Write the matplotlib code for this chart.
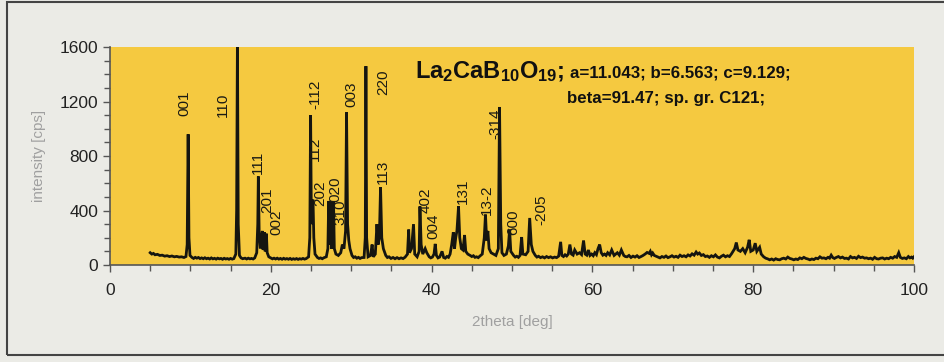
import matplotlib
matplotlib.use("Agg")
import matplotlib.pyplot as plt
from matplotlib.patches import Rectangle

plt.rcParams['font.family'] = ['Liberation Sans', 'DejaVu Sans']
plt.rcParams['mathtext.fontset'] = 'custom'
plt.rcParams['mathtext.rm'] = 'Liberation Sans'
plt.rcParams['mathtext.bf'] = 'Liberation Sans:bold'

# diffraction pattern as (2theta, counts), split by angle range
low_angle = [
    (5.0, 90), (5.2, 80), (5.4, 85), (5.6, 75), (5.9, 78), (6.2, 70), (6.5, 72), (6.8, 65),
    (7.1, 68), (7.4, 62), (7.7, 66), (8.0, 60), (8.3, 63), (8.6, 58), (8.9, 60), (9.2, 55),
    (9.45, 62), (9.6, 150), (9.72, 960), (9.82, 200), (9.95, 70),
    (10.2, 55), (10.4, 48), (10.6, 56), (10.8, 50), (11.0, 55), (11.2, 47), (11.4, 52),
    (11.6, 46), (11.8, 53), (12.0, 46), (12.2, 50), (12.4, 44), (12.6, 52), (12.8, 45),
    (13.0, 49), (13.2, 43), (13.4, 50), (13.6, 45), (13.8, 48), (14.0, 42), (14.2, 49),
    (14.4, 44), (14.6, 47), (14.8, 42), (15.0, 48), (15.2, 43), (15.4, 47), (15.65, 80),
    (15.75, 400), (15.85, 1650), (15.95, 300), (16.1, 70), (16.3, 52), (16.5, 46), (16.8, 50),
    (17.0, 44), (17.2, 50), (17.4, 45), (17.6, 48), (17.8, 44), (18.0, 52), (18.25, 90),
    (18.38, 300), (18.45, 650), (18.55, 250), (18.7, 120), (18.85, 200), (18.95, 250),
    (19.05, 110), (19.2, 240), (19.3, 100), (19.45, 230), (19.55, 90), (19.75, 60),
]
mid_angle = [
    (20.0, 52), (20.2, 45), (20.4, 50), (20.6, 44), (20.8, 50), (21.0, 43), (21.2, 48),
    (21.4, 42), (21.6, 49), (21.8, 43), (22.0, 47), (22.2, 42), (22.4, 48), (22.6, 41),
    (22.8, 46), (23.0, 42), (23.2, 47), (23.4, 41), (23.6, 46), (23.8, 43), (24.0, 48),
    (24.2, 43), (24.4, 47), (24.7, 60), (24.85, 200),
    (24.95, 1100), (25.05, 300), (25.15, 450), (25.25, 480), (25.35, 200), (25.5, 80),
    (25.8, 55), (26.0, 48), (26.2, 52), (26.4, 46), (26.6, 53), (26.9, 60), (27.1, 120),
    (27.2, 470), (27.3, 150), (27.45, 470), (27.55, 120), (27.7, 200), (27.8, 470), (27.9, 120),
    (28.1, 80), (28.4, 70), (28.7, 90), (28.9, 150), (29.1, 120), (29.3, 250),
    (29.42, 1120), (29.55, 300), (29.7, 180), (29.85, 120), (30.1, 70), (30.3, 55), (30.5, 60),
    (30.7, 50), (30.9, 56), (31.1, 48), (31.3, 54), (31.6, 55), (31.75, 200),
    (31.83, 1460), (31.92, 200), (32.1, 60), (32.4, 70), (32.6, 150), (32.75, 60), (33.0, 80),
    (33.2, 300), (33.35, 150), (33.5, 200), (33.65, 570), (33.8, 200), (34.0, 120),
    (34.3, 70), (34.5, 55), (34.7, 60), (34.95, 48), (35.2, 55), (35.45, 46), (35.7, 54),
    (35.95, 46), (36.2, 52), (36.45, 47), (36.7, 57), (37.0, 80), (37.15, 260), (37.25, 90),
    (37.5, 120), (37.75, 300), (37.9, 80), (38.2, 60),
    (38.45, 100), (38.55, 430), (38.7, 150), (38.9, 80), (39.2, 120), (39.4, 90), (39.7, 60),
    (39.9, 52), (40.1, 58), (40.3, 80), (40.45, 155), (40.6, 70), (40.8, 52), (41.0, 58),
    (41.3, 100), (41.5, 55), (41.7, 50), (41.9, 62), (42.1, 56), (42.3, 80), (42.5, 150),
    (42.7, 240), (42.85, 120), (43.0, 200), (43.15, 250), (43.35, 430), (43.5, 200),
    (43.7, 120), (43.9, 110), (44.1, 220), (44.25, 100), (44.5, 80), (44.8, 70), (45.0, 62),
    (45.2, 68), (45.4, 56), (45.6, 60), (45.8, 54), (46.0, 65), (46.3, 80),
    (46.55, 200), (46.7, 370), (46.85, 180), (47.0, 250), (47.15, 120), (47.4, 90),
    (47.7, 80), (48.0, 70), (48.3, 120), (48.45, 1160), (48.6, 300), (48.75, 90), (49.0, 70),
    (49.3, 80), (49.55, 140), (49.7, 260), (49.85, 100), (50.2, 70), (50.4, 58), (50.6, 64),
    (50.8, 56), (51.0, 70), (51.2, 205), (51.35, 80), (51.7, 75), (52.0, 100), (52.2, 345),
    (52.4, 150), (52.6, 100), (52.9, 70), (53.1, 58), (53.3, 64), (53.55, 54), (53.8, 60),
    (54.05, 52), (54.3, 62), (54.55, 54), (54.8, 60), (55.05, 52), (55.3, 58), (55.55, 54),
    (55.8, 65), (56.05, 170), (56.2, 70), (56.4, 62), (56.6, 75), (56.8, 66), (57.0, 80),
    (57.2, 150), (57.4, 80), (57.6, 72), (57.8, 110), (58.1, 80), (58.4, 90), (58.65, 76),
    (58.9, 180), (59.1, 80), (59.3, 72), (59.5, 110), (59.7, 70), (59.9, 80), (60.1, 68),
    (60.3, 90), (60.5, 76), (60.7, 120), (60.9, 150), (61.1, 90), (61.3, 72), (61.5, 80),
    (61.7, 70), (61.9, 90), (62.15, 74), (62.4, 110), (62.7, 70), (62.9, 80), (63.1, 90),
    (63.35, 72), (63.6, 110), (63.9, 70), (64.1, 62),
]
high_angle = [
    (64.3, 60), (64.55, 70), (64.8, 55), (65.05, 65), (65.3, 58), (65.55, 68), (65.8, 55),
    (66.05, 62), (66.3, 70), (66.55, 80), (66.8, 92), (67.05, 85), (67.2, 100), (67.35, 75),
    (67.5, 88), (67.7, 70), (67.9, 65), (68.15, 58), (68.4, 52), (68.65, 62), (68.9, 56),
    (69.15, 66), (69.4, 54), (69.65, 60), (69.9, 68), (70.15, 58), (70.4, 64), (70.65, 56),
    (70.9, 72), (71.15, 62), (71.4, 68), (71.65, 60), (71.9, 74), (72.15, 66), (72.4, 82),
    (72.65, 72), (72.9, 95), (73.1, 80), (73.3, 88), (73.55, 70), (73.8, 76), (74.05, 62),
    (74.3, 66), (74.55, 56), (74.8, 68), (75.05, 60), (75.3, 74), (75.55, 58), (75.8, 52),
    (76.05, 64), (76.3, 72), (76.55, 60), (76.8, 68), (77.05, 62), (77.3, 82),
    (77.7, 120), (77.9, 165), (78.1, 110), (78.4, 100), (78.7, 120), (79.0, 90), (79.3, 130),
    (79.5, 185), (79.7, 100), (80.0, 110), (80.25, 160), (80.45, 100), (80.8, 130), (81.0, 80),
    (81.3, 60), (81.55, 50),
    (81.8, 45), (82.05, 38), (82.3, 44), (82.55, 36), (82.8, 46), (83.05, 40), (83.3, 38),
    (83.55, 46), (83.8, 50), (84.05, 44), (84.3, 58), (84.55, 48), (84.8, 44), (85.05, 38),
    (85.3, 44), (85.55, 40), (85.8, 52), (86.05, 46), (86.3, 56), (86.55, 48), (86.8, 44),
    (87.05, 38), (87.3, 44), (87.55, 40), (87.8, 50), (88.05, 46), (88.3, 60), (88.55, 50),
    (88.8, 52), (89.05, 46), (89.3, 56), (89.5, 50), (89.7, 72), (89.9, 54), (90.1, 48),
    (90.35, 56), (90.6, 62), (90.85, 52), (91.1, 58), (91.35, 48), (91.6, 50), (91.85, 44),
    (92.1, 62), (92.35, 52), (92.6, 56), (92.85, 48), (93.1, 64), (93.35, 54), (93.6, 58),
    (93.85, 50), (94.1, 52), (94.35, 46), (94.6, 50), (94.85, 42), (95.1, 56), (95.35, 46),
    (95.6, 44), (95.85, 50), (96.1, 52), (96.35, 44), (96.6, 50), (96.85, 46), (97.1, 56),
    (97.35, 50), (97.6, 62), (97.85, 56), (98.1, 90), (98.3, 56), (98.55, 48), (98.8, 52),
    (99.05, 46), (99.3, 62), (99.5, 52), (99.7, 58), (99.85, 50), (100.0, 60),
]

# Miller index labels: text, x position, y centre
hkl_text = ["001", "110", "111", "201", "002", "-112", "112", "202", "020", "310",
            "003", "220", "113", "402", "004", "131", "13-2", "-314", "600", "-205"]
hkl_x = [9.2, 14.0, 18.45, 19.6, 20.7, 25.6, 25.5, 26.2, 28.0, 28.7,
         30.0, 34.0, 34.0, 39.2, 40.2, 43.9, 46.85, 47.9, 50.1, 53.6]
hkl_y = [1190, 1174, 752, 477, 316, 1250, 850, 528, 557, 390,
         1257, 1345, 683, 477, 287, 545, 477, 1036, 316, 404]

pattern = low_angle + mid_angle + high_angle
two_theta = [p[0] for p in pattern]
counts = [p[1] for p in pattern]

bg = '#ebebe6'
fig = plt.figure(figsize=(9.45, 3.62), dpi=100, facecolor=bg)
ax = fig.add_axes([0.1164, 0.268, 0.8508, 0.602])
ax.set_facecolor('#f5c940')

ax.plot(two_theta, counts, color='#151510', lw=2.0, solid_joinstyle='miter')

for t, x, y in zip(hkl_text, hkl_x, hkl_y):
    ax.text(x, y, t, rotation=90, ha='center', va='center', fontsize=11, color='#1a1a14')

ax.text(37.9, 1374, r'$\mathbf{La_2CaB_{10}O_{19}}$;', fontsize=17, fontweight='bold',
        ha='left', va='baseline', color='#111111')
ax.text(57.2, 1374, 'a=11.043; b=6.563; c=9.129;', fontsize=12.2, fontweight='bold',
        ha='left', va='baseline', color='#111111')
ax.text(69.1, 1190, 'beta=91.47; sp. gr. C121;', fontsize=12.2, fontweight='bold',
        ha='center', va='baseline', color='#111111')

ax.set_xlim(0, 100)
ax.set_ylim(0, 1600)
ax.set_xticks(range(0, 101, 20))
ax.set_xticks(range(0, 101, 5), minor=True)
ax.set_yticks(range(0, 1601, 400))
ax.set_yticks(range(0, 1601, 100), minor=True)
ax.tick_params(which='both', direction='out', colors='#555555', labelcolor='#222222',
               labelsize=12.5, width=1)
ax.tick_params(which='major', length=5)
ax.tick_params(which='minor', length=4)
ax.tick_params(axis='x', pad=8)

for s in ['top', 'right']:
    ax.spines[s].set_visible(False)
for s in ['left', 'bottom']:
    ax.spines[s].set_color('#555555')
    ax.spines[s].set_linewidth(1.2)

ax.set_xlabel('2theta [deg]', color='#a0a0a0', fontsize=11, labelpad=12)
ax.set_ylabel('intensity [cps]', color='#a0a0a0', fontsize=11, labelpad=10)

# frame around the whole figure
fig.patches.append(Rectangle((7 / 945, 7 / 362), 940 / 945, 353 / 362, transform=fig.transFigure,
                             fill=False, edgecolor='#444444', lw=1.5))

fig.savefig('out.png', dpi=100, facecolor=bg)
